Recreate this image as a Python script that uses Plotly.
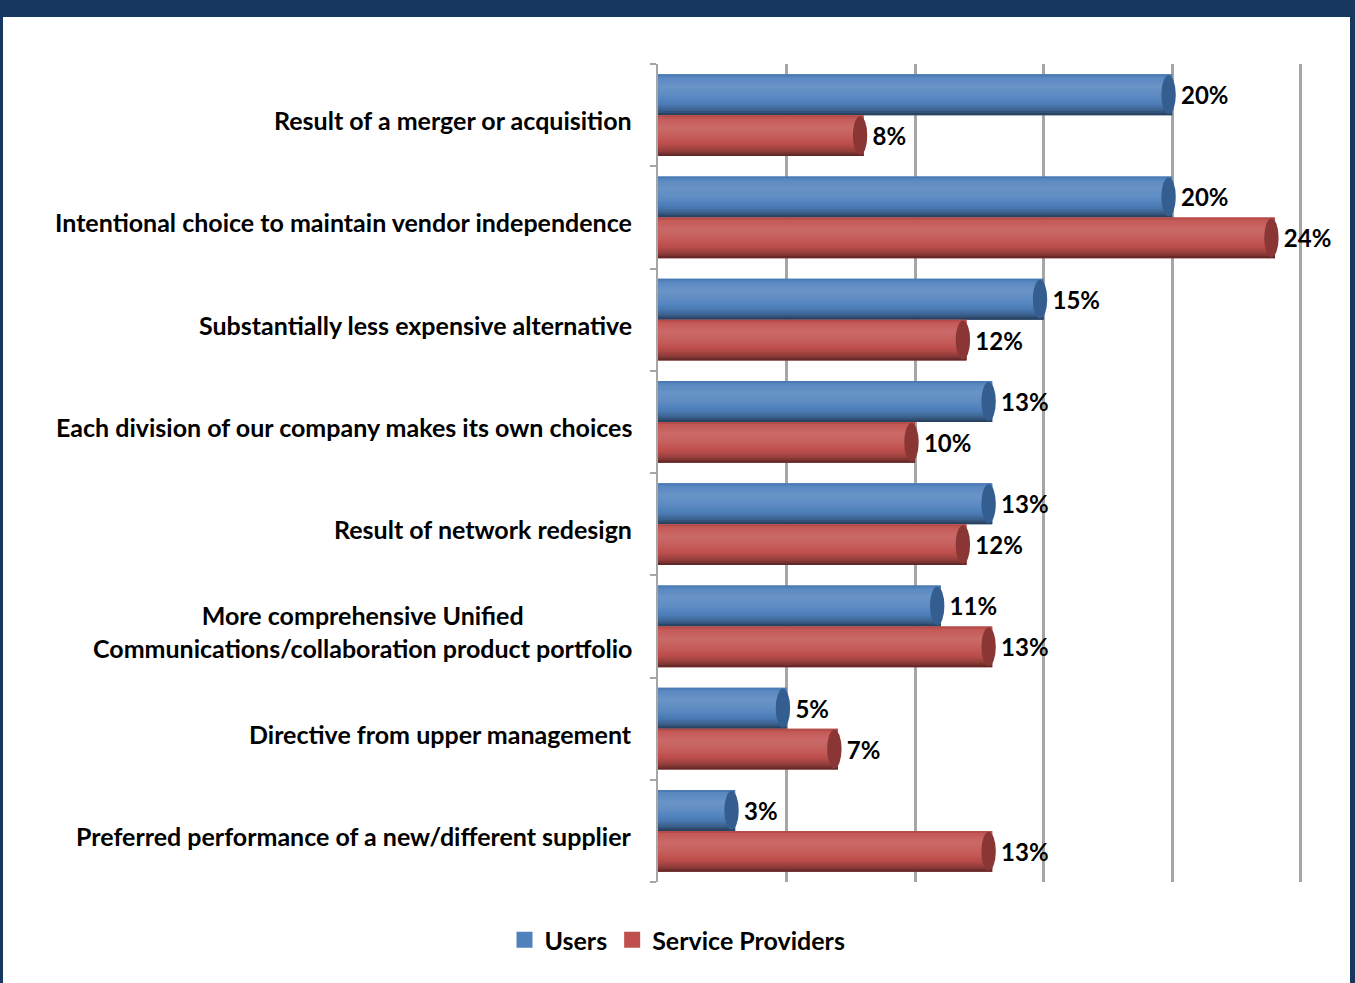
import plotly.graph_objects as go

# ---- data -------------------------------------------------------------
categories = [
    "Result of a merger or acquisition",
    "Intentional choice to maintain vendor independence",
    "Substantially less expensive alternative",
    "Each division of our company makes its own choices",
    "Result of network redesign",
    "More comprehensive Unified<br>Communications/collaboration product portfolio",
    "Directive from upper management",
    "Preferred performance of a new/different supplier",
]
users = [20, 20, 15, 13, 13, 11, 5, 3]
service_providers = [8, 24, 12, 10, 12, 13, 7, 13]

# ---- layout constants ------------------------------------------------
W, H = 1355, 983
ML, MR, MT, MB = 658, 53, 64, 101
NAVY = "#17375E"
FONT = "Lato"
LABEL_SIZE = 25
BAR_W = 0.4          # thickness of each bar in category units
N_STRIPES = 20       # horizontal slices used to shade the cylinders

series = [
    dict(name="Users", values=users, color=(79, 129, 189), cap="#345D90", offset=-BAR_W),
    dict(name="Service Providers", values=service_providers, color=(192, 80, 77), cap="#8A3634", offset=0.0),
]

pos = list(range(len(categories)))


def shade_factor(t):
    """Cylinder lighting profile across the bar thickness (0 = top, 1 = bottom)."""
    pts = [(0.0, -0.1), (0.08, 0.06), (0.3, 0.15), (0.55, 0.07),
           (0.75, -0.06), (0.9, -0.28), (1.0, -0.55)]
    for (t0, f0), (t1, f1) in zip(pts, pts[1:]):
        if t0 <= t <= t1:
            return f0 + (f1 - f0) * (t - t0) / (t1 - t0)
    return pts[-1][1]


def shaded(rgb, f):
    if f >= 0:
        c = [v + (255 - v) * f for v in rgb]
    else:
        c = [v * (1 + f) for v in rgb]
    return "rgb({},{},{})".format(*[int(round(v)) for v in c])


def rgb_str(rgb):
    return "rgb({},{},{})".format(*rgb)


fig = go.Figure()

for s in series:
    # base bar carries the value label
    fig.add_trace(go.Bar(
        y=pos, x=s["values"], orientation="h", name=s["name"], showlegend=False,
        width=BAR_W, offset=s["offset"],
        marker=dict(color=rgb_str(s["color"]), line=dict(width=0)),
        text=s["values"], texttemplate=" %{text}%", textposition="outside",
        textfont=dict(family=FONT, size=24, color="black", weight="bold"),
        cliponaxis=False, hoverinfo="skip",
    ))
    # thin overlapping slices give the rounded cylinder shading
    step = BAR_W / N_STRIPES
    for i in range(N_STRIPES):
        t = (i + 0.5) / N_STRIPES
        w = step * 1.8 if i < N_STRIPES - 1 else step
        fig.add_trace(go.Bar(
            y=pos, x=s["values"], orientation="h", showlegend=False,
            width=w, offset=s["offset"] + i * step,
            marker=dict(color=shaded(s["color"], shade_factor(t)), line=dict(width=0)),
            hoverinfo="skip",
        ))

# legend entries with larger square swatches
for s in series:
    fig.add_trace(go.Scatter(
        x=[None], y=[None], mode="markers", name=s["name"],
        marker=dict(symbol="square", size=16, color=rgb_str(s["color"])),
        hoverinfo="skip",
    ))

shapes = []
# rounded end caps of the cylinders
for s in series:
    for p, v in zip(pos, s["values"]):
        shapes.append(dict(
            type="circle", xref="x", yref="y", layer="above",
            x0=v - 0.42, x1=v + 0.14,
            y0=p + s["offset"] + 0.01, y1=p + s["offset"] + BAR_W - 0.01,
            fillcolor=s["cap"], line=dict(width=0),
        ))


# navy frame around the chart
def px_x(px):
    return (px - ML) / (W - ML - MR)


def px_y(py):
    return (H - MB - py) / (H - MT - MB)


frame = [
    (0, 0, W, 17),       # top band
    (0, 0, 3, H),        # left edge
    (1350, 0, W, H),     # right edge
]
for x0, y0, x1, y1 in frame:
    shapes.append(dict(
        type="rect", xref="paper", yref="paper", layer="below",
        x0=px_x(x0), x1=px_x(x1), y0=px_y(y1), y1=px_y(y0),
        fillcolor=NAVY, line=dict(width=0),
    ))

# category labels (centred lines, right-aligned block)
annotations = []
for p, label in zip(pos, categories):
    annotations.append(dict(
        x=0, y=p, xref="x", yref="y", text=label, showarrow=False,
        xanchor="right", yanchor="middle", align="center",
        xshift=-24, yshift=-5,
        font=dict(family=FONT, size=LABEL_SIZE, color="black", weight="bold"),
    ))

fig.update_layout(
    width=W, height=H,
    margin=dict(l=ML, r=MR, t=MT, b=MB),
    paper_bgcolor="white", plot_bgcolor="white",
    barmode="overlay",
    showlegend=True,
    legend=dict(
        orientation="h", xref="container", yref="container",
        x=0.5, xanchor="center", y=1 - 940 / H, yanchor="middle",
        font=dict(family=FONT, size=LABEL_SIZE, color="black", weight="bold"),
        itemwidth=30, traceorder="normal",
    ),
    shapes=shapes,
    annotations=annotations,
    xaxis=dict(
        range=[0, 25.05], dtick=5, showgrid=True, gridcolor="#A6A6A6", gridwidth=2.5,
        zeroline=False, showline=False, showticklabels=False, ticks="",
        fixedrange=True,
    ),
    yaxis=dict(
        range=[len(categories) - 0.5, -0.5],
        tickvals=[i - 0.5 for i in range(len(categories) + 1)],
        showticklabels=False, ticks="outside", ticklen=6, tickcolor="#A6A6A6",
        tickwidth=1.5, showgrid=False, zeroline=False,
        showline=True, linecolor="#A6A6A6", linewidth=2, fixedrange=True,
    ),
)

fig.write_html("out.html")
